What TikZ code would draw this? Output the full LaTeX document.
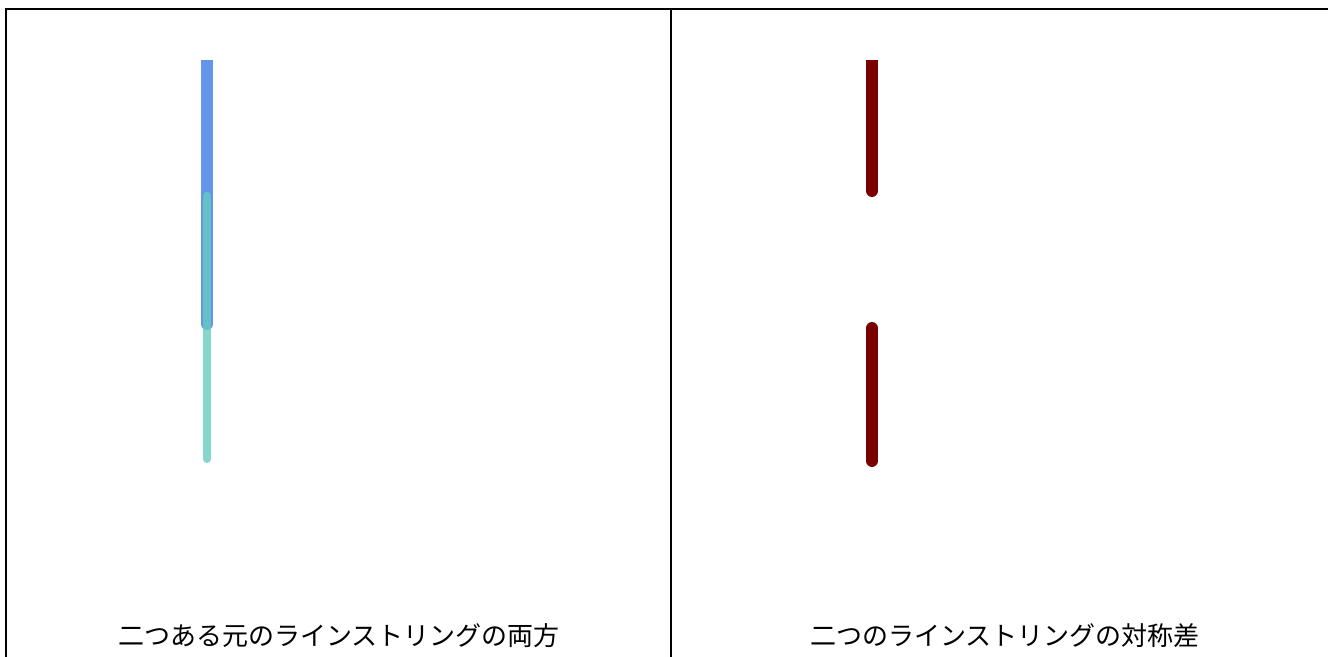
\documentclass[tikz,border=0pt]{standalone}
\usepackage{fontspec}
\newfontfamily\cjk{Noto Sans CJK JP}
\usepackage{tikz}
\usetikzlibrary{positioning}
\definecolor{azulcampo}{RGB}{100,149,237}
\definecolor{verdeagua}{RGB}{102,205,190}
\definecolor{rojodif}{RGB}{122,0,0}

\begin{document}
\begin{tikzpicture}[x=0.5pt,y=-0.5pt,
  marco/.style={line width=0.6pt,black},
  lineaA/.style={line width=6pt,azulcampo,line cap=round},
  lineaB/.style={line width=4pt,verdeagua,opacity=0.8,line cap=round},
  lineaD/.style={line width=6pt,rojodif,line cap=round},
  leyenda/.style={font=\cjk\fontsize{13pt}{15pt}\selectfont,inner sep=0pt}
]
\useasboundingbox (0,0) rectangle (1328,657);
% marcos de los paneles
\coordinate (tl) at (6,9);
\coordinate (tr) at (1328,9);
\coordinate (bl) at (6,657);
\coordinate (tm) at (671,9);
\coordinate (bm) at (671,657);
\draw[marco] (bl) -- (tl) -- (tr);
\draw[marco] (tm) -- (bm);

% panel izquierdo: ambas lineas
\coordinate (a1) at (207,52);
\coordinate (a2) at (207,324);
\coordinate (b1) at (207,196);
\coordinate (b2) at (207,459);
% panel derecho: diferencia simetrica
\coordinate (d1) at (872,52);
\coordinate (d2) at (872,191);
\coordinate (d3) at (872,328);
\coordinate (d4) at (872,461);
\begin{scope}
  \clip (0,61) rectangle (1328,657);
  \draw[lineaA] (a1) -- (a2);
  \draw[lineaB] (b1) -- (b2);
  \draw[lineaD] (d1) -- (d2);
  \draw[lineaD] (d3) -- (d4);
\end{scope}

\node[leyenda] (t1) at (339,636) {二つある元のラインストリングの両方};
\node[leyenda] (t2) at (1005,636) {二つのラインストリングの対称差};
\end{tikzpicture}
\end{document}
